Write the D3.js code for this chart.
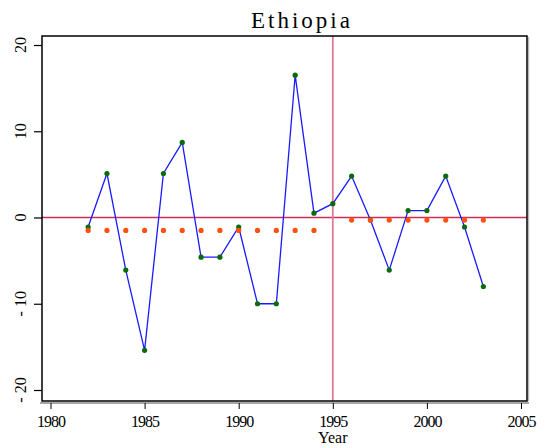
<!DOCTYPE html>
<html>
<head>
<meta charset="utf-8">
<script src="https://cdn.jsdelivr.net/npm/d3@7"></script>
<style>
  html, body { margin: 0; padding: 0; background: #fff; }
  svg { display: block; }
</style>
</head>
<body>
<svg id="chart" width="548" height="448"></svg>
<script>
const title = "Ethiopia";
const xLabel = "Year";
const years = [1982,1983,1984,1985,1986,1987,1988,1989,1990,1991,1992,1993,1994,1995,1996,1997,1998,1999,2000,2001,2002,2003];
const growth = [-1.1,5.1,-6.1,-15.4,5.1,8.7,-4.6,-4.6,-1.1,-10.0,-10.0,16.5,0.5,1.6,4.8,-0.3,-6.1,0.8,0.8,4.8,-1.1,-8.0];
const meanYearsPre = [1982,1983,1984,1985,1986,1987,1988,1989,1990,1991,1992,1993,1994];
const meanPre = -1.5;
const meanYearsPost = [1996,1997,1998,1999,2000,2001,2002,2003];
const meanPost = -0.3;
const breakYear = 1995;
const xTicks = [1980,1985,1990,1995,2000,2005];
const yTicks = [-20,-10,0,10,20];

const FONT = "Liberation Serif, Times New Roman, serif";
const svg = d3.select("#chart");
const frame = {left: 42, top: 36, right: 527, bottom: 401};

const x = d3.scaleLinear().domain([1980, 2005]).range([50.5, 521]);
const y = d3.scaleLinear().domain([-20, 20]).range([390, 45]);

// frame shadow
svg.append("line").attr("x1", frame.right + 1.5).attr("x2", frame.right + 1.5)
  .attr("y1", frame.top + 1).attr("y2", frame.bottom).attr("stroke", "#bbb").attr("stroke-width", 1.5);

// zero line
svg.append("line").attr("x1", frame.left).attr("x2", frame.right)
  .attr("y1", y(0)).attr("y2", y(0)).attr("stroke", "#cc2e55").attr("stroke-width", 1.4);

// vertical break line
svg.append("line").attr("x1", x(breakYear)).attr("x2", x(breakYear))
  .attr("y1", frame.top).attr("y2", frame.bottom).attr("stroke", "#e07a95").attr("stroke-width", 1.8);

// frame
svg.append("rect").attr("x", frame.left).attr("y", frame.top)
  .attr("width", frame.right - frame.left).attr("height", frame.bottom - frame.top)
  .attr("fill", "none").attr("stroke", "#000").attr("stroke-width", 1.5);

// series line
const line = d3.line().x((d, i) => x(years[i])).y(d => y(d));
svg.append("path").datum(growth).attr("d", line)
  .attr("fill", "none").attr("stroke", "#1a1aff").attr("stroke-width", 1.3);

// green points
svg.append("g").selectAll("circle").data(growth).join("circle")
  .attr("cx", (d, i) => x(years[i])).attr("cy", d => y(d)).attr("r", 2.6)
  .attr("fill", "#0a6b0a");

// orange mean points
svg.append("g").selectAll("circle").data(meanYearsPre).join("circle")
  .attr("cx", d => x(d)).attr("cy", y(meanPre)).attr("r", 2.6).attr("fill", "#ff5010");
svg.append("g").selectAll("circle").data(meanYearsPost).join("circle")
  .attr("cx", d => x(d)).attr("cy", y(meanPost)).attr("r", 2.6).attr("fill", "#ff5010");

// y axis
const yAxis = svg.append("g").attr("transform", `translate(${frame.left},0)`)
  .call(d3.axisLeft(y).tickValues(yTicks).tickSize(8).tickFormat(d => d));
yAxis.select(".domain").remove();
yAxis.selectAll(".tick line").attr("stroke", "#000").attr("stroke-width", 1.2);
yAxis.selectAll(".tick text").remove();
svg.append("g").selectAll("text").data(yTicks).join("text")
  .attr("transform", d => `translate(26,${y(d)}) rotate(-90)`)
  .attr("text-anchor", "middle").attr("font-family", FONT).attr("font-size", 16)
  .text(d => d < 0 ? "- " + Math.abs(d) : d);

// x axis
const axisY = 403;
svg.append("line").attr("x1", frame.left - 2).attr("x2", frame.right + 2)
  .attr("y1", axisY).attr("y2", axisY).attr("stroke", "#888").attr("stroke-width", 1.5);
const xAxis = svg.append("g").attr("transform", `translate(0,${axisY})`)
  .call(d3.axisBottom(x).tickValues(xTicks).tickSize(6).tickFormat(d3.format("d")));
xAxis.attr("font-family", FONT).attr("font-size", 16);
xAxis.select(".domain").remove();
xAxis.selectAll(".tick line").attr("stroke", "#000").attr("stroke-width", 1);
xAxis.selectAll(".tick text").attr("dy", 0).attr("y", 24).attr("letter-spacing", "-1");

svg.append("text").attr("x", x(1995)).attr("y", 443).attr("text-anchor", "middle")
  .attr("font-family", FONT).attr("font-size", 16).text(xLabel);

svg.append("text").attr("x", 302).attr("y", 28).attr("text-anchor", "middle")
  .attr("font-family", FONT).attr("font-size", 23).attr("letter-spacing", "3").text(title);
</script>
</body>
</html>
